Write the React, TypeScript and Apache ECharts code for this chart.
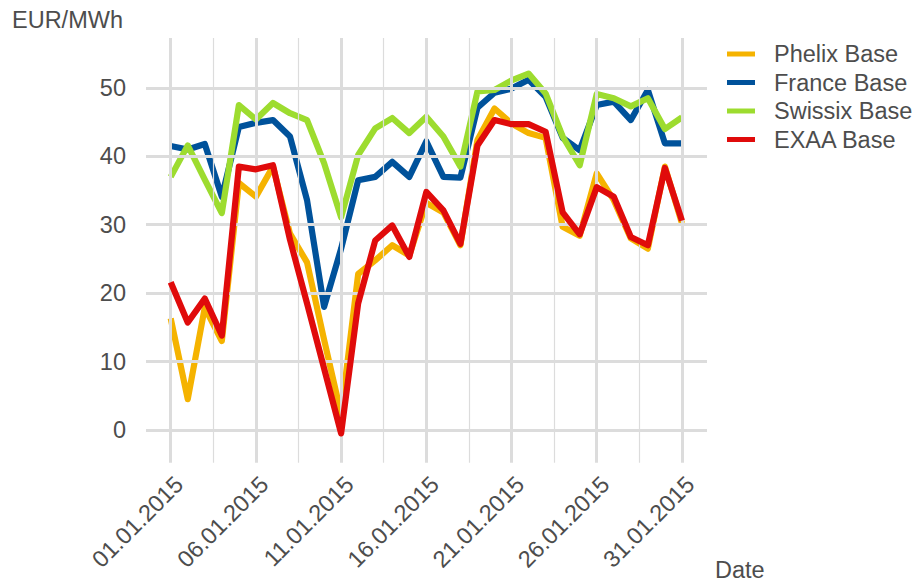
import React, { useEffect, useRef } from "react";
import * as echarts from "echarts";

const days = [1, 2, 3, 4, 5, 6, 7, 8, 9, 10, 11, 12, 13, 14, 15, 16, 17, 18, 19, 20, 21, 22, 23, 24, 25, 26, 27, 28, 29, 30, 31];

const phelix = [16.3, 4.5, 17.9, 13.0, 36.1, 34.1, 38.5, 28.7, 24.5, 13.2, 2.3, 22.8, 24.8, 27.0, 25.5, 33.2, 31.8, 27.0, 42.4, 47.0, 44.8, 43.4, 42.7, 29.7, 28.4, 37.5, 33.6, 28.0, 26.5, 38.5, 30.2];
const france = [41.5, 41.0, 41.8, 34.1, 44.3, 44.9, 45.3, 42.9, 33.6, 18.0, 26.5, 36.5, 37.0, 39.2, 37.0, 42.2, 37.0, 36.9, 47.1, 49.3, 49.9, 51.2, 48.7, 42.7, 40.9, 47.5, 48.0, 45.3, 49.7, 41.9, 41.9];
const swissix = [37.0, 41.6, 36.6, 31.7, 47.5, 45.4, 47.8, 46.3, 45.3, 39.0, 31.1, 40.2, 44.1, 45.6, 43.4, 45.8, 42.9, 38.5, 49.5, 49.7, 51.1, 52.1, 49.2, 42.9, 38.7, 49.1, 48.5, 47.3, 48.5, 44.0, 45.7];
const exaa = [21.6, 15.7, 19.2, 13.8, 38.5, 38.1, 38.7, 27.8, 18.5, 9.0, -0.5, 18.5, 27.7, 29.9, 25.3, 34.8, 32.1, 27.2, 41.6, 45.3, 44.7, 44.7, 43.6, 31.8, 28.6, 35.5, 34.1, 28.2, 27.0, 38.3, 30.6];

const seriesNames = ["Phelix Base", "France Base", "Swissix Base", "EXAA Base"];
const seriesColors = ["#f5b300", "#00529b", "#9ddc2f", "#e00b0b"];

const xTickDays = [1, 6, 11, 16, 21, 26, 31];
const xTickLabels = ["01.01.2015", "06.01.2015", "11.01.2015", "16.01.2015", "21.01.2015", "26.01.2015", "31.01.2015"];
const xMinorDays = [3.5, 8.5, 13.5, 18.5, 23.5, 28.5];
const yTicks = [0, 10, 20, 30, 40, 50];

const FONT = '"Liberation Sans", Arial, Helvetica, sans-serif';
const TEXT = "#4d4d4d";
const GRID = "#dcdcdc";
const FS = 23.5;

export default function App() {
  const ref = useRef<HTMLDivElement>(null);
  useEffect(() => {
    if (!ref.current) return;
    const chart = echarts.init(ref.current, undefined, { renderer: "svg" });
    const allData = [phelix, france, swissix, exaa];
    const gridLines: any[] = [
      ...xTickDays.map((d) => ({ xAxis: d, lineStyle: { width: 3, color: GRID, type: "solid" } })),
      ...xMinorDays.map((d) => ({ xAxis: d, lineStyle: { width: 1.2, color: GRID, type: "solid" } })),
      ...yTicks.map((v) => ({ yAxis: v, lineStyle: { width: 3, color: GRID, type: "solid" } })),
    ];
    chart.setOption({
      animation: false,
      grid: { left: 146, right: 212, top: 38, bottom: 119.2, containLabel: false },
      xAxis: {
        type: "value",
        min: -0.45,
        max: 32.47,
        axisLine: { show: false },
        splitLine: { show: false },
        axisTick: { show: true, customValues: xTickDays, length: 4, lineStyle: { color: GRID, width: 3 } },
        axisLabel: {
          customValues: xTickDays,
          formatter: (v: number) => {
            const i = xTickDays.indexOf(Math.round(v));
            return i >= 0 ? xTickLabels[i] : "";
          },
          rotate: 45,
          align: "right",
          verticalAlign: "top",
          margin: 9,
          fontSize: FS,
          color: TEXT,
          fontFamily: FONT,
        },
      },
      yAxis: {
        type: "value",
        min: -4.8,
        max: 57.3,
        axisLine: { show: false },
        splitLine: { show: false },
        axisTick: { show: true, customValues: yTicks, length: 4, lineStyle: { color: GRID, width: 3 } },
        axisLabel: { customValues: yTicks, margin: 20, fontSize: FS, color: TEXT, fontFamily: FONT },
      },
      legend: {
        data: seriesNames,
        orient: "vertical",
        left: 722,
        top: 37,
        icon: "rect",
        itemWidth: 28,
        itemHeight: 5,
        itemGap: 4.5,
        textStyle: { fontSize: FS, color: TEXT, fontFamily: FONT, padding: [0, 0, 0, 14] },
      },
      graphic: [
        { type: "text", left: 12, top: 8, style: { text: "EUR/MWh", font: `${FS}px ${FONT}`, fill: TEXT } },
        { type: "text", left: 715, top: 558, style: { text: "Date", font: `${FS}px ${FONT}`, fill: TEXT } },
      ],
      series: [
        {
          name: "__grid",
          type: "line",
          data: [],
          z: 0,
          silent: true,
          markLine: {
            silent: true,
            symbol: ["none", "none"],
            label: { show: false },
            emphasis: { disabled: true },
            animation: false,
            data: gridLines,
          },
        },
        ...seriesNames.map((name, k) => ({
          name,
          type: "line",
          z: 2 + k,
          data: days.map((d, i) => [d, allData[k][i]]),
          showSymbol: false,
          symbol: "none",
          itemStyle: { color: seriesColors[k] },
          lineStyle: { color: seriesColors[k], width: 6.2, cap: "butt", join: "round" },
          emphasis: { disabled: true },
        })),
      ],
    });
    return () => chart.dispose();
  }, []);
  return <div ref={ref} style={{ width: 919, height: 582, position: "absolute", left: 0, top: 0 }} />;
}
